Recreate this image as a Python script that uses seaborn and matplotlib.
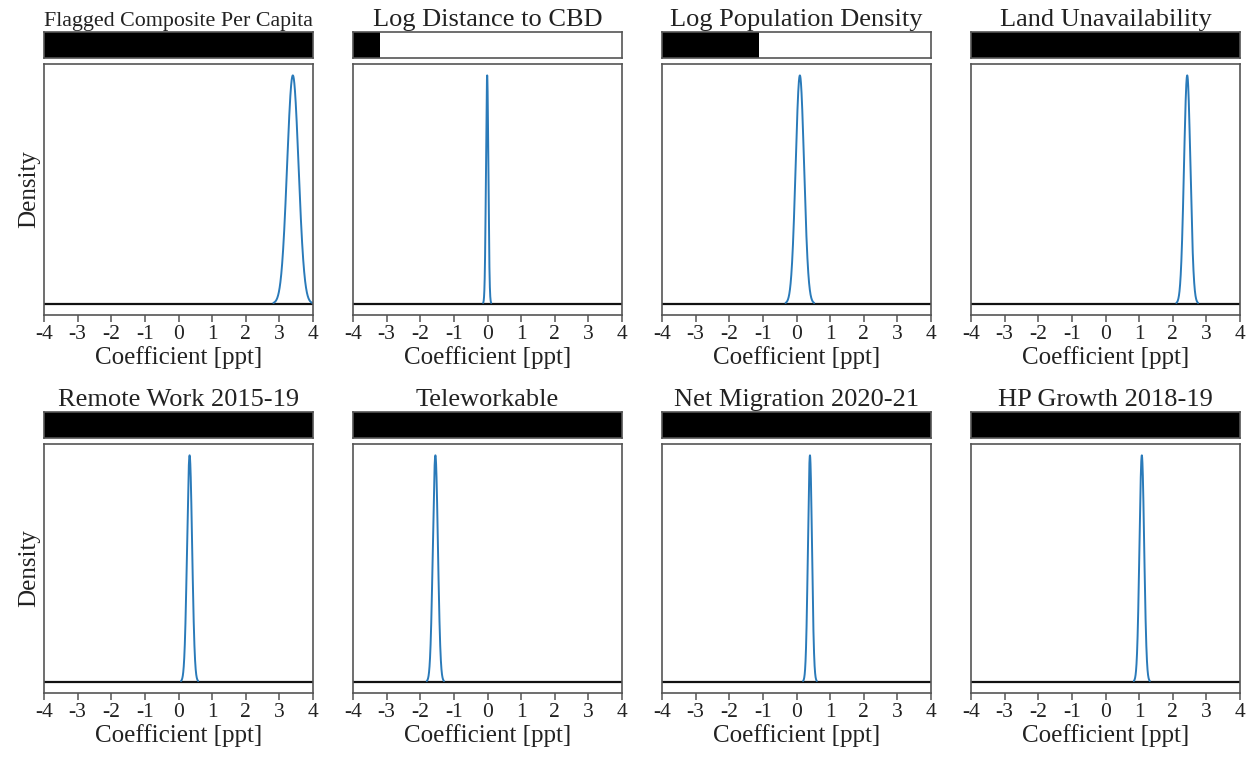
import numpy as np
import pandas as pd
import matplotlib
matplotlib.use("Agg")
import matplotlib.pyplot as plt
import seaborn as sns

# Posterior summaries per regressor
variables = [
    "Flagged Composite Per Capita",
    "Log Distance to CBD",
    "Log Population Density",
    "Land Unavailability",
    "Remote Work 2015-19",
    "Teleworkable",
    "Net Migration 2020-21",
    "HP Growth 2018-19",
]
post_mean = [3.40, -0.01, 0.10, 2.43, 0.33, -1.55, 0.40, 1.08]
post_sd = [0.17, 0.035, 0.125, 0.095, 0.075, 0.075, 0.06, 0.07]
inclusion_prob = [1.0, 0.10, 0.36, 1.0, 1.0, 1.0, 1.0, 1.0]
tick_values = [-4, -3, -2, -1, 0, 1, 2, 3, 4]

sns.set_theme(style="white")
plt.rcParams["font.family"] = ["Liberation Serif", "DejaVu Serif"]

FRAME = "#555555"
LINE = "#2a7ab9"

fig = plt.figure(figsize=(12.57, 7.60), dpi=100)

W, H = 1257.0, 760.0
col_left = [44, 353, 662, 971]
col_w = 269
rows = [
    # (bar_top, bar_bottom, ax_top, ax_bottom)
    (32, 58, 64, 315),
    (412, 438, 444, 693),
]


def frame(ax):
    for s in ax.spines.values():
        s.set_visible(True)
        s.set_color(FRAME)
        s.set_linewidth(1.2)


for i, name in enumerate(variables):
    r, c = divmod(i, 4)
    bt, bb, at, ab = rows[r]
    left = col_left[c] / W

    # inclusion-probability bar
    bax = fig.add_axes([left, 1 - bb / H, col_w / W, (bb - bt) / H])
    bar_df = pd.DataFrame({"prob": [inclusion_prob[i]], "row": ["p"]})
    sns.barplot(data=bar_df, x="prob", y="row", orient="h", color="black",
                width=1.0, ax=bax, saturation=1.0)
    for p in bax.patches:
        p.set_edgecolor("none")
    bax.set_xlim(0, 1)
    bax.set_ylim(0.5, -0.5)
    bax.set_xticks([])
    bax.set_yticks([])
    bax.set_xlabel("")
    bax.set_ylabel("")
    frame(bax)
    tsize = 15.8 if len(name) > 24 else 19
    bax.set_title(name, fontsize=tsize, pad=4, color="#222222")

    # posterior density
    ax = fig.add_axes([left, 1 - ab / H, col_w / W, (ab - at) / H])
    m, s = post_mean[i], post_sd[i]
    grid = np.linspace(max(m - 3.4 * s, -4), min(m + 3.4 * s, 4), 400)
    dens = np.exp(-0.5 * ((grid - m) / s) ** 2) / (s * np.sqrt(2 * np.pi))
    ax.axhline(0, color="#111111", lw=1.6, zorder=1)
    sns.lineplot(x=grid, y=dens, ax=ax, color=LINE, lw=1.4, zorder=2)
    peak = dens.max()
    ax.set_ylim(-0.05 * peak, 1.05 * peak)
    ax.set_xlim(-4, 4)
    ax.set_xticks(tick_values)
    ax.set_xticklabels([str(t) for t in tick_values], fontsize=15.5, color="#222222")
    ax.tick_params(axis="x", bottom=True, direction="out", length=5, width=1.1,
                   color=FRAME, pad=2)
    ax.set_yticks([])
    frame(ax)
    ax.set_xlabel("Coefficient [ppt]", fontsize=18, color="#222222", labelpad=2)
    if c == 0:
        ax.set_ylabel("Density", fontsize=18, color="#222222", labelpad=3)
    else:
        ax.set_ylabel("")

fig.savefig("out.png", dpi=100, facecolor="white")
